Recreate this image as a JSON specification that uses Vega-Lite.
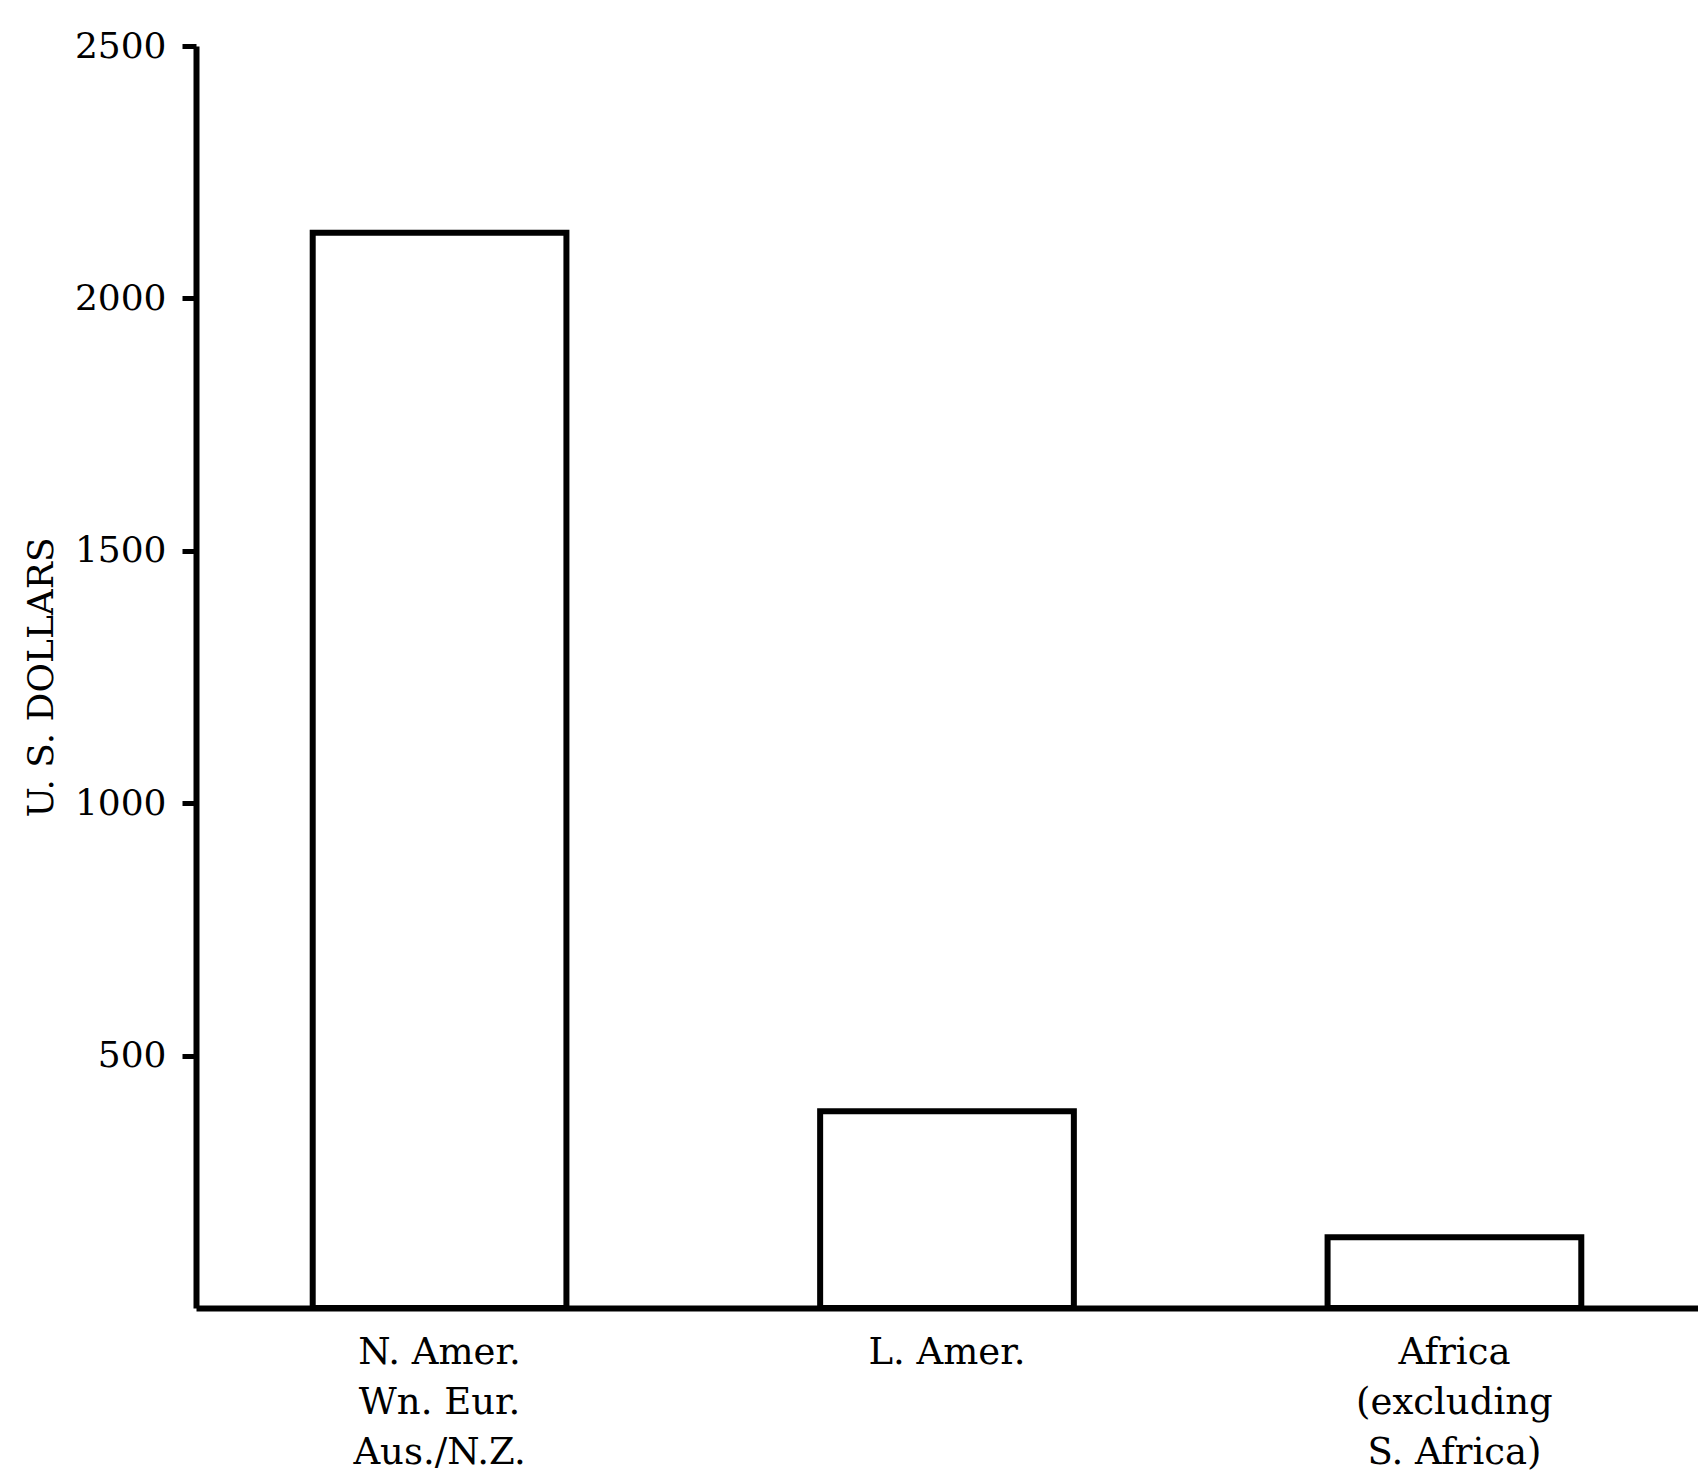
{
  "$schema": "https://vega.github.io/schema/vega-lite/v6.json",
  "autosize": {"type": "none"},
  "width": 1502,
  "height": 1262,
  "padding": {"left": 196, "top": 46, "right": 0, "bottom": 164},
  "background": "white",
  "config": {
    "view": {"stroke": null},
    "font": "DejaVu Serif"
  },
  "data": {
    "values": [
      {"region": "N. Amer.|Wn. Eur.|Aus./N.Z.", "order": 1, "dollars": 2130},
      {"region": "L. Amer.", "order": 2, "dollars": 390},
      {"region": "Africa|(excluding|S. Africa)", "order": 3, "dollars": 140}
    ]
  },
  "mark": {"type": "bar", "fill": "white", "stroke": "black", "strokeWidth": 6, "strokeJoin": "miter"},
  "encoding": {
    "x": {
      "field": "region",
      "type": "nominal",
      "sort": {"field": "order"},
      "scale": {"paddingInner": 0.5, "paddingOuter": 0.23},
      "axis": {
        "title": null,
        "domain": true,
        "domainColor": "black",
        "domainWidth": 6,
        "ticks": false,
        "labelAngle": 0,
        "labelExpr": "split(datum.label, '|')",
        "labelFont": "DejaVu Serif",
        "labelFontSize": 37,
        "labelColor": "black",
        "labelLimit": 0,
        "labelLineHeight": 50,
        "labelPadding": 26,
        "labelBaseline": "top"
      }
    },
    "y": {
      "field": "dollars",
      "type": "quantitative",
      "scale": {"domain": [0, 2500], "nice": false},
      "axis": {
        "title": "U. S. DOLLARS",
        "titleFont": "DejaVu Serif",
        "titleFontSize": 36,
        "titleFontWeight": "normal",
        "titleColor": "black",
        "titlePadding": 14,
        "values": [500, 1000, 1500, 2000, 2500],
        "format": "d",
        "grid": false,
        "domain": true,
        "domainColor": "black",
        "domainWidth": 6,
        "ticks": true,
        "tickColor": "black",
        "tickWidth": 5,
        "tickSize": 14,
        "labelFont": "DejaVu Serif",
        "labelFontSize": 36,
        "labelColor": "black",
        "labelPadding": 16,
        "labelBaseline": "middle"
      }
    }
  }
}
